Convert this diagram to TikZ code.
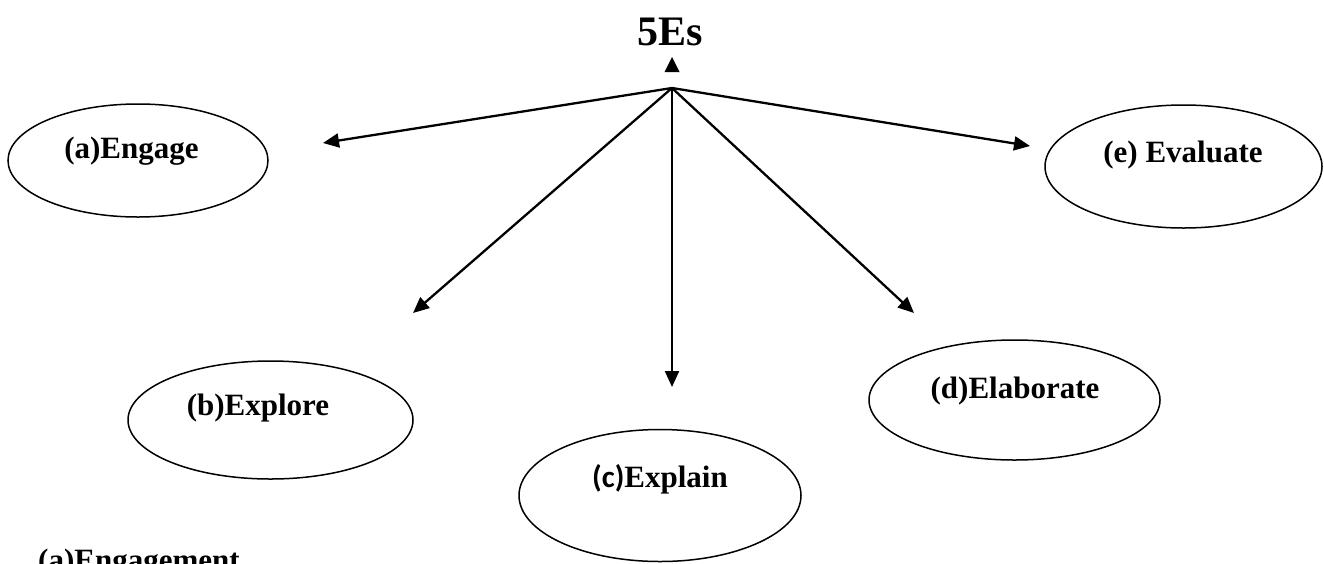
\documentclass[tikz,border=0pt]{standalone}
\usepackage{fontspec}
\setmainfont{Liberation Serif}
\newfontfamily\calib{Carlito}
\usetikzlibrary{arrows.meta,shapes.geometric}
\tikzset{
  ell/.style={draw, ellipse, line width=1.5pt, inner sep=0pt},
  lbl/.style={font=\fontsize{31}{36}\selectfont\bfseries, anchor=base, inner sep=0pt},
  conn/.style={line width=2.3pt, -{Triangle[length=16pt,width=14pt]}}
}
\begin{document}
\begin{tikzpicture}[x=1pt,y=-1pt]
\useasboundingbox (0,0) rectangle (1324,563);
\clip (0,0) rectangle (1324,563);
% title
\node[lbl, font=\fontsize{42}{48}\selectfont\bfseries] (title) at (670.5,45) {5Es};
\fill (672,57) -- (679.5,72) -- (664.5,72) -- cycle;
% ellipses
\node[ell, minimum width=260pt, minimum height=113pt] (engage) at (138,160.5) {};
\node[ell, minimum width=277pt, minimum height=123pt] (evaluate) at (1183.5,166.5) {};
\node[ell, minimum width=291pt, minimum height=120pt] (elaborate) at (1014.5,400) {};
\node[ell, minimum width=285pt, minimum height=118pt] (explore) at (270.5,420) {};
\node[ell, minimum width=282pt, minimum height=132pt] (explain) at (660,495.5) {};
% labels
\node[lbl] (tengage) at (131.5,158) {(a)Engage};
\node[lbl] (tevaluate) at (1183,162) {(e) Evaluate};
\node[lbl] (telaborate) at (1015,398) {(d)Elaborate};
\node[lbl] (texplore) at (258,415) {(b)Explore};
\node[lbl] (texplain) at (660,487) {{\calib (c)}Explain};
\node[lbl, anchor=base west] (tengagement) at (38,570) {(a)Engagement};
% connectors
\coordinate (hub) at (672,88);
\coordinate (pa) at (323,143);
\coordinate (pb) at (413,313);
\coordinate (pc) at (672,387);
\coordinate (pd) at (914,313);
\coordinate (pe) at (1030,146);
\draw[conn] (hub) -- (pa);
\draw[conn] (hub) -- (pb);
\draw[conn] (hub) -- (pc);
\draw[conn] (hub) -- (pd);
\draw[conn] (hub) -- (pe);
\end{tikzpicture}
\end{document}
